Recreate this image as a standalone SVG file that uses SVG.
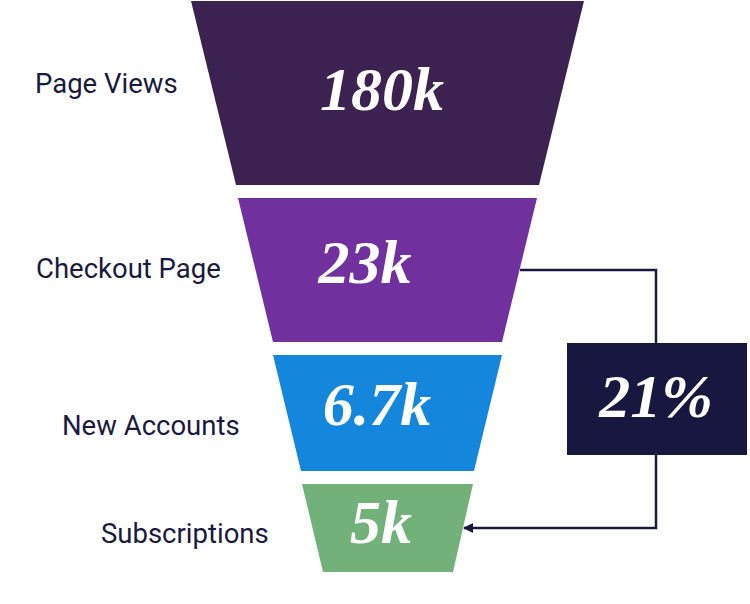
<svg xmlns="http://www.w3.org/2000/svg" width="750" height="604" viewBox="0 0 750 604">
<defs>
<style>
.lbl{font-family:Roboto,"Liberation Sans",sans-serif;font-size:27.5px;fill:#1a1a40}
.val{font-family:"Liberation Serif","DejaVu Serif",serif;font-size:62px;font-weight:bold;font-style:italic;fill:#ffffff;text-anchor:middle}
.conn{fill:none;stroke:#1a1a40;stroke-width:2.5}
</style>
<marker id="arr" markerWidth="10" markerHeight="10" refX="9" refY="5" orient="auto" markerUnits="userSpaceOnUse">
<path d="M0,0 L10,5 L0,10 Z" fill="#1a1a40"/>
</marker>
</defs>
<rect width="750" height="604" fill="#ffffff"/>
<g id="connectors">
<path class="conn" d="M520,270 H656 V343"/>
<path class="conn" d="M656,455 V528 H464" marker-end="url(#arr)"/>
</g>
<g id="page-views">
<polygon points="191,1 584,1 539,185 236,185" fill="#3c2250"/>
<text class="val" x="382" y="110">180k</text>
<text class="lbl" x="35" y="93">Page Views</text>
</g>
<g id="checkout-page">
<polygon points="238,198 537,198 502,342 273,342" fill="#70309e"/>
<text class="val" x="365" y="283">23k</text>
<text class="lbl" x="36" y="278">Checkout Page</text>
</g>
<g id="new-accounts">
<polygon points="273,355 502,355 474,471 301,471" fill="#1487dc"/>
<text class="val" x="377" y="425">6.7k</text>
<text class="lbl" x="62" y="435">New Accounts</text>
</g>
<g id="subscriptions">
<polygon points="302,484 473,484 453,572 323,572" fill="#72b27a"/>
<text class="val" x="381" y="543">5k</text>
<text class="lbl" x="101" y="543">Subscriptions</text>
</g>
<g id="conversion">
<rect x="567" y="343" width="180" height="112" fill="#18173f"/>
<text class="val" x="656" y="417">21%</text>
</g>
</svg>
